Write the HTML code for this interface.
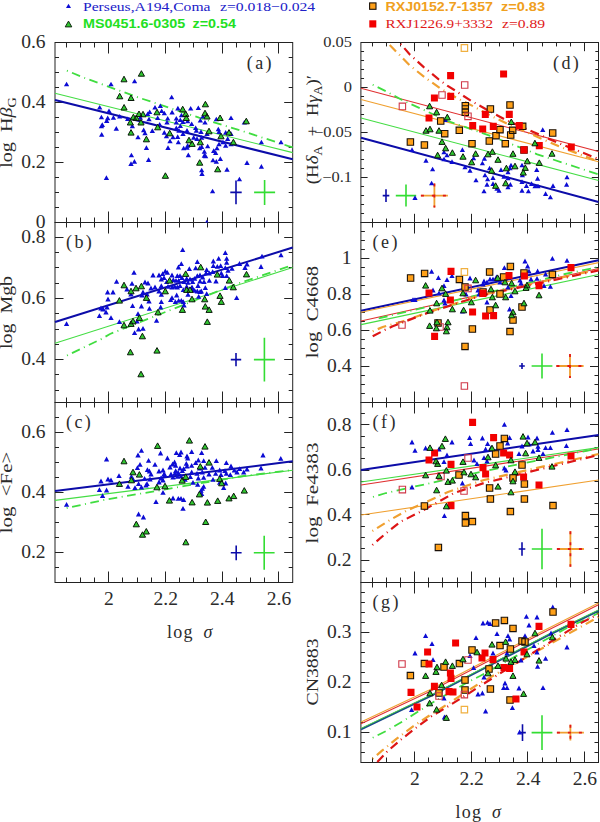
<!DOCTYPE html><html><head><meta charset="utf-8"><style>html,body{margin:0;padding:0;background:#fff;}svg{display:block;}</style></head><body>
<svg width="600" height="822" viewBox="0 0 600 822">
<rect width="600" height="822" fill="#fff"/>
<path d="M66.5 222.5v-5.0M66.5 42.5v5.0M80.5 222.5v-5.0M80.5 42.5v5.0M94.5 222.5v-5.0M94.5 42.5v5.0M108.5 222.5v-11.0M108.5 42.5v11.0M122.5 222.5v-5.0M122.5 42.5v5.0M137.5 222.5v-5.0M137.5 42.5v5.0M151.5 222.5v-5.0M151.5 42.5v5.0M165.5 222.5v-11.0M165.5 42.5v11.0M179.5 222.5v-5.0M179.5 42.5v5.0M193.5 222.5v-5.0M193.5 42.5v5.0M207.5 222.5v-5.0M207.5 42.5v5.0M222.5 222.5v-11.0M222.5 42.5v11.0M236.5 222.5v-5.0M236.5 42.5v5.0M250.5 222.5v-5.0M250.5 42.5v5.0M264.5 222.5v-5.0M264.5 42.5v5.0M278.5 222.5v-11.0M278.5 42.5v11.0M55.0 207.5h4.0M292.7 207.5h-4.0M55.0 192.5h4.0M292.7 192.5h-4.0M55.0 177.5h4.0M292.7 177.5h-4.0M55.0 162.5h8.5M292.7 162.5h-8.5M55.0 147.5h4.0M292.7 147.5h-4.0M55.0 132.5h4.0M292.7 132.5h-4.0M55.0 117.5h4.0M292.7 117.5h-4.0M55.0 102.5h8.5M292.7 102.5h-8.5M55.0 87.5h4.0M292.7 87.5h-4.0M55.0 72.5h4.0M292.7 72.5h-4.0M55.0 57.5h4.0M292.7 57.5h-4.0" stroke="#222" stroke-width="1" fill="none"/>
<rect x="55.0" y="42.5" width="237.7" height="180.0" stroke="#222" stroke-width="1" fill="none"/>
<text transform="translate(45.6,47.7) scale(1.03,1)" font-family='"Liberation Serif", serif' font-size="19" text-anchor="end" fill="#2b2b2b">0.6</text>
<text transform="translate(45.6,107.8) scale(1.03,1)" font-family='"Liberation Serif", serif' font-size="19" text-anchor="end" fill="#2b2b2b">0.4</text>
<text transform="translate(45.6,167.9) scale(1.03,1)" font-family='"Liberation Serif", serif' font-size="19" text-anchor="end" fill="#2b2b2b">0.2</text>
<text transform="translate(45.6,228.0) scale(1.03,1)" font-family='"Liberation Serif", serif' font-size="19" text-anchor="end" fill="#2b2b2b">0</text>
<path d="M66.5 402.5v-5.0M66.5 222.5v5.0M80.5 402.5v-5.0M80.5 222.5v5.0M94.5 402.5v-5.0M94.5 222.5v5.0M108.5 402.5v-11.0M108.5 222.5v11.0M122.5 402.5v-5.0M122.5 222.5v5.0M137.5 402.5v-5.0M137.5 222.5v5.0M151.5 402.5v-5.0M151.5 222.5v5.0M165.5 402.5v-11.0M165.5 222.5v11.0M179.5 402.5v-5.0M179.5 222.5v5.0M193.5 402.5v-5.0M193.5 222.5v5.0M207.5 402.5v-5.0M207.5 222.5v5.0M222.5 402.5v-11.0M222.5 222.5v11.0M236.5 402.5v-5.0M236.5 222.5v5.0M250.5 402.5v-5.0M250.5 222.5v5.0M264.5 402.5v-5.0M264.5 222.5v5.0M278.5 402.5v-11.0M278.5 222.5v11.0M55.0 390.5h4.0M292.7 390.5h-4.0M55.0 374.5h4.0M292.7 374.5h-4.0M55.0 359.5h8.5M292.7 359.5h-8.5M55.0 344.5h4.0M292.7 344.5h-4.0M55.0 329.5h4.0M292.7 329.5h-4.0M55.0 313.5h4.0M292.7 313.5h-4.0M55.0 298.5h8.5M292.7 298.5h-8.5M55.0 283.5h4.0M292.7 283.5h-4.0M55.0 267.5h4.0M292.7 267.5h-4.0M55.0 252.5h4.0M292.7 252.5h-4.0M55.0 237.5h8.5M292.7 237.5h-8.5" stroke="#222" stroke-width="1" fill="none"/>
<rect x="55.0" y="222.5" width="237.7" height="180.0" stroke="#222" stroke-width="1" fill="none"/>
<text transform="translate(45.6,243.0) scale(1.03,1)" font-family='"Liberation Serif", serif' font-size="19" text-anchor="end" fill="#2b2b2b">0.8</text>
<text transform="translate(45.6,304.1) scale(1.03,1)" font-family='"Liberation Serif", serif' font-size="19" text-anchor="end" fill="#2b2b2b">0.6</text>
<text transform="translate(45.6,365.2) scale(1.03,1)" font-family='"Liberation Serif", serif' font-size="19" text-anchor="end" fill="#2b2b2b">0.4</text>
<path d="M66.5 582.5v-5.0M66.5 402.5v5.0M80.5 582.5v-5.0M80.5 402.5v5.0M94.5 582.5v-5.0M94.5 402.5v5.0M108.5 582.5v-11.0M108.5 402.5v11.0M122.5 582.5v-5.0M122.5 402.5v5.0M137.5 582.5v-5.0M137.5 402.5v5.0M151.5 582.5v-5.0M151.5 402.5v5.0M165.5 582.5v-11.0M165.5 402.5v11.0M179.5 582.5v-5.0M179.5 402.5v5.0M193.5 582.5v-5.0M193.5 402.5v5.0M207.5 582.5v-5.0M207.5 402.5v5.0M222.5 582.5v-11.0M222.5 402.5v11.0M236.5 582.5v-5.0M236.5 402.5v5.0M250.5 582.5v-5.0M250.5 402.5v5.0M264.5 582.5v-5.0M264.5 402.5v5.0M278.5 582.5v-11.0M278.5 402.5v11.0M55.0 567.5h4.0M292.7 567.5h-4.0M55.0 552.5h8.5M292.7 552.5h-8.5M55.0 537.5h4.0M292.7 537.5h-4.0M55.0 522.5h4.0M292.7 522.5h-4.0M55.0 507.5h4.0M292.7 507.5h-4.0M55.0 492.5h8.5M292.7 492.5h-8.5M55.0 477.5h4.0M292.7 477.5h-4.0M55.0 462.5h4.0M292.7 462.5h-4.0M55.0 447.5h4.0M292.7 447.5h-4.0M55.0 432.5h8.5M292.7 432.5h-8.5M55.0 417.5h4.0M292.7 417.5h-4.0" stroke="#222" stroke-width="1" fill="none"/>
<rect x="55.0" y="402.5" width="237.7" height="180.0" stroke="#222" stroke-width="1" fill="none"/>
<text transform="translate(45.6,438.1) scale(1.03,1)" font-family='"Liberation Serif", serif' font-size="19" text-anchor="end" fill="#2b2b2b">0.6</text>
<text transform="translate(45.6,498.1) scale(1.03,1)" font-family='"Liberation Serif", serif' font-size="19" text-anchor="end" fill="#2b2b2b">0.4</text>
<text transform="translate(45.6,558.1) scale(1.03,1)" font-family='"Liberation Serif", serif' font-size="19" text-anchor="end" fill="#2b2b2b">0.2</text>
<path d="M372.5 222.5v-3.95M372.5 42.5v3.95M386.5 222.5v-3.95M386.5 42.5v3.95M400.5 222.5v-3.95M400.5 42.5v3.95M414.5 222.5v-8.690000000000001M414.5 42.5v8.690000000000001M428.5 222.5v-3.95M428.5 42.5v3.95M442.5 222.5v-3.95M442.5 42.5v3.95M457.5 222.5v-3.95M457.5 42.5v3.95M471.5 222.5v-8.690000000000001M471.5 42.5v8.690000000000001M485.5 222.5v-3.95M485.5 42.5v3.95M499.5 222.5v-3.95M499.5 42.5v3.95M513.5 222.5v-3.95M513.5 42.5v3.95M527.5 222.5v-8.690000000000001M527.5 42.5v8.690000000000001M542.5 222.5v-3.95M542.5 42.5v3.95M556.5 222.5v-3.95M556.5 42.5v3.95M570.5 222.5v-3.95M570.5 42.5v3.95M584.5 222.5v-8.690000000000001M584.5 42.5v8.690000000000001M360.9 213.5h3.16M598.5 213.5h-3.16M360.9 204.5h3.16M598.5 204.5h-3.16M360.9 195.5h3.16M598.5 195.5h-3.16M360.9 186.5h3.16M598.5 186.5h-3.16M360.9 177.5h6.715M598.5 177.5h-6.715M360.9 168.5h3.16M598.5 168.5h-3.16M360.9 159.5h3.16M598.5 159.5h-3.16M360.9 150.5h3.16M598.5 150.5h-3.16M360.9 141.5h3.16M598.5 141.5h-3.16M360.9 132.5h6.715M598.5 132.5h-6.715M360.9 123.5h3.16M598.5 123.5h-3.16M360.9 114.5h3.16M598.5 114.5h-3.16M360.9 105.5h3.16M598.5 105.5h-3.16M360.9 96.5h3.16M598.5 96.5h-3.16M360.9 87.5h6.715M598.5 87.5h-6.715M360.9 78.5h3.16M598.5 78.5h-3.16M360.9 69.5h3.16M598.5 69.5h-3.16M360.9 60.5h3.16M598.5 60.5h-3.16M360.9 51.5h3.16M598.5 51.5h-3.16" stroke="#222" stroke-width="1" fill="none"/>
<rect x="360.9" y="42.5" width="237.6" height="180.0" stroke="#222" stroke-width="1" fill="none"/>
<text transform="translate(352.0,47.1) scale(1.15,1)" font-family='"Liberation Serif", serif' font-size="14.3" text-anchor="end" fill="#2b2b2b">0.05</text>
<text transform="translate(352.0,92.1) scale(1.15,1)" font-family='"Liberation Serif", serif' font-size="14.3" text-anchor="end" fill="#2b2b2b">0</text>
<text transform="translate(352.0,137.1) scale(1.15,1)" font-family='"Liberation Serif", serif' font-size="14.3" text-anchor="end" fill="#2b2b2b">−0.05</text>
<text transform="translate(352.0,182.1) scale(1.15,1)" font-family='"Liberation Serif", serif' font-size="14.3" text-anchor="end" fill="#2b2b2b">−0.1</text>
<path d="M372.5 402.5v-5.0M372.5 222.5v5.0M386.5 402.5v-5.0M386.5 222.5v5.0M400.5 402.5v-5.0M400.5 222.5v5.0M414.5 402.5v-11.0M414.5 222.5v11.0M428.5 402.5v-5.0M428.5 222.5v5.0M442.5 402.5v-5.0M442.5 222.5v5.0M457.5 402.5v-5.0M457.5 222.5v5.0M471.5 402.5v-11.0M471.5 222.5v11.0M485.5 402.5v-5.0M485.5 222.5v5.0M499.5 402.5v-5.0M499.5 222.5v5.0M513.5 402.5v-5.0M513.5 222.5v5.0M527.5 402.5v-11.0M527.5 222.5v11.0M542.5 402.5v-5.0M542.5 222.5v5.0M556.5 402.5v-5.0M556.5 222.5v5.0M570.5 402.5v-5.0M570.5 222.5v5.0M584.5 402.5v-11.0M584.5 222.5v11.0M360.9 393.5h4.0M598.5 393.5h-4.0M360.9 384.5h4.0M598.5 384.5h-4.0M360.9 375.5h4.0M598.5 375.5h-4.0M360.9 366.5h8.5M598.5 366.5h-8.5M360.9 357.5h4.0M598.5 357.5h-4.0M360.9 348.5h4.0M598.5 348.5h-4.0M360.9 339.5h4.0M598.5 339.5h-4.0M360.9 330.5h8.5M598.5 330.5h-8.5M360.9 321.5h4.0M598.5 321.5h-4.0M360.9 312.5h4.0M598.5 312.5h-4.0M360.9 303.5h4.0M598.5 303.5h-4.0M360.9 294.5h8.5M598.5 294.5h-8.5M360.9 285.5h4.0M598.5 285.5h-4.0M360.9 276.5h4.0M598.5 276.5h-4.0M360.9 267.5h4.0M598.5 267.5h-4.0M360.9 258.5h8.5M598.5 258.5h-8.5M360.9 249.5h4.0M598.5 249.5h-4.0M360.9 240.5h4.0M598.5 240.5h-4.0M360.9 231.5h4.0M598.5 231.5h-4.0" stroke="#222" stroke-width="1" fill="none"/>
<rect x="360.9" y="222.5" width="237.6" height="180.0" stroke="#222" stroke-width="1" fill="none"/>
<text transform="translate(351.5,264.1) scale(1.03,1)" font-family='"Liberation Serif", serif' font-size="19" text-anchor="end" fill="#2b2b2b">1</text>
<text transform="translate(351.5,300.1) scale(1.03,1)" font-family='"Liberation Serif", serif' font-size="19" text-anchor="end" fill="#2b2b2b">0.8</text>
<text transform="translate(351.5,336.1) scale(1.03,1)" font-family='"Liberation Serif", serif' font-size="19" text-anchor="end" fill="#2b2b2b">0.6</text>
<text transform="translate(351.5,372.1) scale(1.03,1)" font-family='"Liberation Serif", serif' font-size="19" text-anchor="end" fill="#2b2b2b">0.4</text>
<path d="M372.5 582.5v-5.0M372.5 402.5v5.0M386.5 582.5v-5.0M386.5 402.5v5.0M400.5 582.5v-5.0M400.5 402.5v5.0M414.5 582.5v-11.0M414.5 402.5v11.0M428.5 582.5v-5.0M428.5 402.5v5.0M442.5 582.5v-5.0M442.5 402.5v5.0M457.5 582.5v-5.0M457.5 402.5v5.0M471.5 582.5v-11.0M471.5 402.5v11.0M485.5 582.5v-5.0M485.5 402.5v5.0M499.5 582.5v-5.0M499.5 402.5v5.0M513.5 582.5v-5.0M513.5 402.5v5.0M527.5 582.5v-11.0M527.5 402.5v11.0M542.5 582.5v-5.0M542.5 402.5v5.0M556.5 582.5v-5.0M556.5 402.5v5.0M570.5 582.5v-5.0M570.5 402.5v5.0M584.5 582.5v-11.0M584.5 402.5v11.0M360.9 571.5h4.0M598.5 571.5h-4.0M360.9 560.5h8.5M598.5 560.5h-8.5M360.9 548.5h4.0M598.5 548.5h-4.0M360.9 537.5h4.0M598.5 537.5h-4.0M360.9 526.5h4.0M598.5 526.5h-4.0M360.9 514.5h8.5M598.5 514.5h-8.5M360.9 503.5h4.0M598.5 503.5h-4.0M360.9 492.5h4.0M598.5 492.5h-4.0M360.9 481.5h4.0M598.5 481.5h-4.0M360.9 470.5h8.5M598.5 470.5h-8.5M360.9 458.5h4.0M598.5 458.5h-4.0M360.9 447.5h4.0M598.5 447.5h-4.0M360.9 436.5h4.0M598.5 436.5h-4.0M360.9 424.5h8.5M598.5 424.5h-8.5M360.9 413.5h4.0M598.5 413.5h-4.0" stroke="#222" stroke-width="1" fill="none"/>
<rect x="360.9" y="402.5" width="237.6" height="180.0" stroke="#222" stroke-width="1" fill="none"/>
<text transform="translate(351.5,430.6) scale(1.03,1)" font-family='"Liberation Serif", serif' font-size="19" text-anchor="end" fill="#2b2b2b">0.8</text>
<text transform="translate(351.5,475.6) scale(1.03,1)" font-family='"Liberation Serif", serif' font-size="19" text-anchor="end" fill="#2b2b2b">0.6</text>
<text transform="translate(351.5,520.6) scale(1.03,1)" font-family='"Liberation Serif", serif' font-size="19" text-anchor="end" fill="#2b2b2b">0.4</text>
<text transform="translate(351.5,565.6) scale(1.03,1)" font-family='"Liberation Serif", serif' font-size="19" text-anchor="end" fill="#2b2b2b">0.2</text>
<path d="M372.5 762.5v-5.0M372.5 582.5v5.0M386.5 762.5v-5.0M386.5 582.5v5.0M400.5 762.5v-5.0M400.5 582.5v5.0M414.5 762.5v-11.0M414.5 582.5v11.0M428.5 762.5v-5.0M428.5 582.5v5.0M442.5 762.5v-5.0M442.5 582.5v5.0M457.5 762.5v-5.0M457.5 582.5v5.0M471.5 762.5v-11.0M471.5 582.5v11.0M485.5 762.5v-5.0M485.5 582.5v5.0M499.5 762.5v-5.0M499.5 582.5v5.0M513.5 762.5v-5.0M513.5 582.5v5.0M527.5 762.5v-11.0M527.5 582.5v11.0M542.5 762.5v-5.0M542.5 582.5v5.0M556.5 762.5v-5.0M556.5 582.5v5.0M570.5 762.5v-5.0M570.5 582.5v5.0M584.5 762.5v-11.0M584.5 582.5v11.0M360.9 752.5h4.0M598.5 752.5h-4.0M360.9 742.5h4.0M598.5 742.5h-4.0M360.9 732.5h8.5M598.5 732.5h-8.5M360.9 722.5h4.0M598.5 722.5h-4.0M360.9 712.5h4.0M598.5 712.5h-4.0M360.9 702.5h4.0M598.5 702.5h-4.0M360.9 692.5h4.0M598.5 692.5h-4.0M360.9 682.5h8.5M598.5 682.5h-8.5M360.9 672.5h4.0M598.5 672.5h-4.0M360.9 662.5h4.0M598.5 662.5h-4.0M360.9 652.5h4.0M598.5 652.5h-4.0M360.9 642.5h4.0M598.5 642.5h-4.0M360.9 632.5h8.5M598.5 632.5h-8.5M360.9 622.5h4.0M598.5 622.5h-4.0M360.9 612.5h4.0M598.5 612.5h-4.0M360.9 602.5h4.0M598.5 602.5h-4.0M360.9 592.5h4.0M598.5 592.5h-4.0" stroke="#222" stroke-width="1" fill="none"/>
<rect x="360.9" y="582.5" width="237.6" height="180.0" stroke="#222" stroke-width="1" fill="none"/>
<text transform="translate(351.5,638.1) scale(1.03,1)" font-family='"Liberation Serif", serif' font-size="19" text-anchor="end" fill="#2b2b2b">0.3</text>
<text transform="translate(351.5,688.1) scale(1.03,1)" font-family='"Liberation Serif", serif' font-size="19" text-anchor="end" fill="#2b2b2b">0.2</text>
<text transform="translate(351.5,738.1) scale(1.03,1)" font-family='"Liberation Serif", serif' font-size="19" text-anchor="end" fill="#2b2b2b">0.1</text>
<polyline points="55,100 292.7,159.3" fill="none" stroke="#0c0ca8" stroke-width="2.0"/>
<polyline points="55,93.3 292.7,152.6" fill="none" stroke="#44dd44" stroke-width="1.1"/>
<polyline points="66.9,70.7 84.7,78 139,97.7 171,108.3 199,117.7 244.3,131.7 287.7,145.8 292.7,147.3" fill="none" stroke="#40dd40" stroke-width="1.8" stroke-dasharray="1 4.5 8.7 4.5"/>
<polyline points="55,322 292.7,247.5" fill="none" stroke="#0c0ca8" stroke-width="2.0"/>
<polyline points="55,343.3 292.7,267.6" fill="none" stroke="#44dd44" stroke-width="1.1"/>
<polyline points="67,355.5 101.8,338.8 110,334 168,311 235,284.5 292.7,265" fill="none" stroke="#40dd40" stroke-width="1.8" stroke-dasharray="1 4.5 8.7 4.5"/>
<polyline points="55,491.1 292.7,461.3" fill="none" stroke="#0c0ca8" stroke-width="2.0"/>
<polyline points="55,500.4 292.7,470.2" fill="none" stroke="#44dd44" stroke-width="1.1"/>
<polyline points="66.7,508 105,499.8 186.3,485.7 240,476.5 292.7,470" fill="none" stroke="#40dd40" stroke-width="1.8" stroke-dasharray="1 4.5 8.7 4.5"/>
<polyline points="361,137.8 598.5,202" fill="none" stroke="#0c0ca8" stroke-width="2.0"/>
<polyline points="361,118 598.5,180.5" fill="none" stroke="#44dd44" stroke-width="1.1"/>
<polyline points="361,99.5 598.5,161.8" fill="none" stroke="#f0a030" stroke-width="1.1"/>
<polyline points="361,88.3 598.5,151.5" fill="none" stroke="#e03030" stroke-width="1.1"/>
<polyline points="372.7,84.7 386,91.3 402,100 448,121 493.3,137 537.3,154.3 598.5,174.5" fill="none" stroke="#40dd40" stroke-width="1.8" stroke-dasharray="1 4.5 9 4.5"/>
<polyline points="389.7,45 409.7,65.3 424.7,77.3 440.7,88.7 457.3,98.3 473.3,106.3 490.7,115.7 507.3,123.7 536,136.3 560.7,147 598.5,161.5" fill="none" stroke="#f0a030" stroke-width="2.2" stroke-dasharray="9 4.5 1 4.5"/>
<polyline points="400.7,44 410,54.7 424,67.3 438.7,79.3 447.3,85.7 454.7,90.3 471.3,101 488,110.3 505.3,119.7 532.7,131.7 556.7,142.3 598.5,159" fill="none" stroke="#dd1515" stroke-width="2.2" stroke-dasharray="1 4.5 9 4.5"/>
<polyline points="361,310.7 598.5,260.3" fill="none" stroke="#0c0ca8" stroke-width="2.0"/>
<polyline points="361,312.3 598.5,262.6" fill="none" stroke="#f0a030" stroke-width="1.1"/>
<polyline points="361,321 598.5,268.5" fill="none" stroke="#e03030" stroke-width="1.1"/>
<polyline points="361,324.6 598.5,274.5" fill="none" stroke="#44dd44" stroke-width="1.1"/>
<polyline points="378.7,318.3 424,307.7 480,294.5 565,274 598.5,267" fill="none" stroke="#40dd40" stroke-width="1.8" stroke-dasharray="9 4.5 1 4.5"/>
<polyline points="372.7,331.3 382.7,327 400,322.3 410,319 428,312.3 480,295.5 547.5,280.5 598.5,269.5" fill="none" stroke="#f0a030" stroke-width="2.2" stroke-dasharray="1 4.5 9 4.5"/>
<polyline points="372.7,336.3 384.7,330 392.7,326.3 420,315.7 429.3,312.3 480,296 547.5,281.5 598.5,270.4" fill="none" stroke="#dd1515" stroke-width="2.2" stroke-dasharray="9 4.5 1 4.5"/>
<polyline points="361,470 598.5,435" fill="none" stroke="#0c0ca8" stroke-width="2.0"/>
<polyline points="361,482 598.5,447.6" fill="none" stroke="#44dd44" stroke-width="1.1"/>
<polyline points="361,485 598.5,449" fill="none" stroke="#e03030" stroke-width="1.1"/>
<polyline points="361,515 598.5,480" fill="none" stroke="#f0a030" stroke-width="1.1"/>
<polyline points="373,497 386,493 480,472 598.5,448.4" fill="none" stroke="#40dd40" stroke-width="1.8" stroke-dasharray="1 4.5 9 4.5"/>
<polyline points="372.4,531 390,520 406,511 426,502 448,492 484,480 598.5,454" fill="none" stroke="#f0a030" stroke-width="2.2" stroke-dasharray="1 4.5 9 4.5"/>
<polyline points="372.4,545 384,535 400,522 420,512 440,501 454,493 484,483 598.5,455" fill="none" stroke="#dd1515" stroke-width="2.2" stroke-dasharray="1 4.5 9 4.5"/>
<polyline points="361,722 429.3,690 537,634 598.5,603" fill="none" stroke="#f0a030" stroke-width="1.1"/>
<polyline points="361,723.8 429.3,691.8 537,635.8 598.5,604.8" fill="none" stroke="#e03030" stroke-width="1.1"/>
<polyline points="361,729.3 432,695.3 548.7,635 598.5,610.8" fill="none" stroke="#1a4a8a" stroke-width="2.0"/>
<polyline points="361,728.4 432,694.4 548.7,634.1 598.5,609.9" fill="none" stroke="#44cc44" stroke-width="1.0"/>
<polyline points="372.7,737.7 386.7,730.7 402.7,721.3 418.7,711.3 434.7,701.3 468,682 480,676 568.5,627 587.2,618.8 598.5,613" fill="none" stroke="#40dd40" stroke-width="1.8" stroke-dasharray="1 4.5 9 4.5"/>
<polyline points="372.7,758.7 382,750.7 396.7,738.7 412.7,726.7 428.7,716 435.3,712 480,683 598.5,617" fill="none" stroke="#f0a030" stroke-width="2.2" stroke-dasharray="1 4.5 9 4.5"/>
<polyline points="377.3,762 386.7,752 401.3,739.3 416.7,727.3 432.7,715.3 440,711.3 468,694 480,686 580,623.5 598.5,614" fill="none" stroke="#dd1515" stroke-width="2.2" stroke-dasharray="9 4.5 1 4.5"/>
<path d="M230.3 192.4h11.4M236 180.6v23.6" stroke="#0c0ca8" stroke-width="1.6" fill="none"/>
<path d="M254.10000000000002 192.4h21.0M264.6 179.9v25.0" stroke="#33dd33" stroke-width="1.6" fill="none"/>
<path d="M230.8 359.6h10.4M236 352.90000000000003v13.4" stroke="#0c0ca8" stroke-width="1.6" fill="none"/>
<path d="M253.89999999999998 359.6h21.0M264.4 337.8v43.6" stroke="#33dd33" stroke-width="1.6" fill="none"/>
<path d="M230.79999999999998 552.8h10.8M236.2 545.4v14.8" stroke="#0c0ca8" stroke-width="1.6" fill="none"/>
<path d="M253.79999999999998 552.8h20.8M264.2 535.8v34" stroke="#33dd33" stroke-width="1.6" fill="none"/>
<path d="M382.7 195.6h6.6M386 189.29999999999998v12.6" stroke="#0c0ca8" stroke-width="1.6" fill="none"/>
<path d="M395.8 195.6h20.4M406 184.6v22" stroke="#33dd33" stroke-width="1.6" fill="none"/>
<path d="M420.9 195.6h27.0M434.4 183.6v24" stroke="#f0a030" stroke-width="1.8" fill="none"/>
<path d="M519.2 366h5.6M522 363v6" stroke="#0c0ca8" stroke-width="1.6" fill="none"/>
<path d="M531.6 366h20.8M542 353.6v24.8" stroke="#33dd33" stroke-width="1.6" fill="none"/>
<path d="M556.4 366h27.2M570 354v24" stroke="#f0a030" stroke-width="1.8" fill="none"/>
<path d="M518.7 549h6.6M522 542.2v13.6" stroke="#0c0ca8" stroke-width="1.6" fill="none"/>
<path d="M531.8 549h20.4M542 528.7v40.6" stroke="#33dd33" stroke-width="1.6" fill="none"/>
<path d="M556.9 549h27.0M570.4 531.3v35.4" stroke="#f0a030" stroke-width="1.8" fill="none"/>
<path d="M519.2 732.6h6.6M522.5 724.3000000000001v16.6" stroke="#0c0ca8" stroke-width="1.6" fill="none"/>
<path d="M531.6 732.6h20.8M542 715.3000000000001v34.6" stroke="#33dd33" stroke-width="1.6" fill="none"/>
<path d="M556.9 732.6h27.0M570.4 724.8000000000001v15.6" stroke="#f0a030" stroke-width="1.8" fill="none"/>
<path d="M420.9 195.6h27.0M434.4 183.6v24" stroke="#e01818" stroke-width="1.8" fill="none" stroke-dasharray="3 8" stroke-dashoffset="0"/>
<path d="M556.4 366h27.2M570 354v24" stroke="#e01818" stroke-width="1.8" fill="none" stroke-dasharray="3 8" stroke-dashoffset="0"/>
<path d="M556.9 549h27.0M570.4 531.3v35.4" stroke="#e01818" stroke-width="1.8" fill="none" stroke-dasharray="3 8" stroke-dashoffset="0"/>
<path d="M556.9 732.6h27.0M570.4 724.8000000000001v15.6" stroke="#e01818" stroke-width="1.8" fill="none" stroke-dasharray="3 8" stroke-dashoffset="0"/>
<defs><clipPath id="cpa"><rect x="55.0" y="42.5" width="237.7" height="180.0"/></clipPath><clipPath id="cpb"><rect x="55.0" y="222.5" width="237.7" height="180.0"/></clipPath><clipPath id="cpc"><rect x="55.0" y="402.5" width="237.7" height="180.0"/></clipPath><clipPath id="cpd"><rect x="360.9" y="42.5" width="237.6" height="180.0"/></clipPath><clipPath id="cpe"><rect x="360.9" y="222.5" width="237.6" height="180.0"/></clipPath><clipPath id="cpf"><rect x="360.9" y="402.5" width="237.6" height="180.0"/></clipPath><clipPath id="cpg"><rect x="360.9" y="582.5" width="237.6" height="180.0"/></clipPath></defs>
<g clip-path="url(#cpa)">
<path d="M63.9 86.3L69.2 86.3L66.6 81.7ZM108.3 86.3L113.7 86.3L111.0 81.7ZM131.9 83.3L137.2 83.3L134.6 78.7ZM97.0 109.6L102.4 109.6L99.7 105.0ZM106.3 113.0L111.7 113.0L109.0 108.4ZM98.8 119.3L104.1 119.3L101.4 114.7ZM105.0 120.2L110.4 120.2L107.7 115.6ZM110.8 119.8L116.1 119.8L113.4 115.1ZM117.0 118.6L122.4 118.6L119.7 114.0ZM104.0 122.9L109.4 122.9L106.7 118.2ZM99.6 126.9L105.0 126.9L102.3 122.2ZM98.8 128.2L104.1 128.2L101.4 123.6ZM113.6 130.7L119.0 130.7L116.3 126.0ZM125.0 121.0L130.3 121.0L127.7 116.4ZM129.7 128.2L135.0 128.2L132.3 123.6ZM137.7 119.8L143.0 119.8L140.3 115.1ZM145.0 116.0L150.3 116.0L147.7 111.4ZM147.0 114.0L152.3 114.0L149.7 109.4ZM152.3 109.6L157.7 109.6L155.0 105.0ZM157.7 108.0L163.0 108.0L160.3 103.4ZM159.0 113.0L164.3 113.0L161.7 108.4ZM161.7 115.3L167.0 115.3L164.3 110.7ZM169.4 114.4L174.8 114.4L172.1 109.8ZM146.3 121.3L151.7 121.3L149.0 116.7ZM155.0 120.0L160.3 120.0L157.7 115.4ZM165.0 120.6L170.3 120.6L167.7 116.0ZM164.3 124.6L169.7 124.6L167.0 120.0ZM157.0 126.6L162.3 126.6L159.7 122.0ZM149.7 133.0L155.0 133.0L152.3 128.3ZM141.0 132.2L146.3 132.2L143.7 127.6ZM142.3 135.3L147.7 135.3L145.0 130.7ZM161.7 134.7L167.0 134.7L164.3 130.0ZM169.0 99.3L174.3 99.3L171.7 94.7ZM99.0 136.7L104.4 136.7L101.7 132.0ZM175.2 110.4L180.6 110.4L177.9 105.8ZM188.0 110.6L193.3 110.6L190.7 106.0ZM195.7 110.0L201.0 110.0L198.3 105.4ZM178.8 117.3L184.1 117.3L181.4 112.7ZM173.7 120.6L179.0 120.6L176.3 116.0ZM177.7 122.0L183.0 122.0L180.3 117.4ZM180.3 124.0L185.7 124.0L183.0 119.4ZM185.0 123.3L190.3 123.3L187.7 118.7ZM173.7 124.6L179.0 124.6L176.3 120.0ZM189.0 126.0L194.3 126.0L191.7 121.4ZM197.7 122.6L203.0 122.6L200.3 118.0ZM202.3 124.6L207.7 124.6L205.0 120.0ZM200.3 118.6L205.7 118.6L203.0 114.0ZM213.7 121.3L219.0 121.3L216.3 116.7ZM228.3 120.0L233.7 120.0L231.0 115.4ZM241.7 124.6L247.0 124.6L244.3 120.0ZM177.7 128.1L183.0 128.1L180.3 123.4ZM173.7 130.1L179.0 130.1L176.3 125.4ZM176.3 132.7L181.7 132.7L179.0 128.0ZM184.3 132.7L189.7 132.7L187.0 128.0ZM193.0 130.1L198.3 130.1L195.7 125.4ZM193.7 132.7L199.0 132.7L196.3 128.0ZM198.3 134.0L203.7 134.0L201.0 129.3ZM215.7 131.3L221.0 131.3L218.3 126.7ZM216.3 134.0L221.7 134.0L219.0 129.3ZM223.0 134.7L228.3 134.7L225.7 130.0ZM228.3 136.0L233.7 136.0L231.0 131.3ZM204.3 136.0L209.7 136.0L207.0 131.3ZM180.3 136.0L185.7 136.0L183.0 131.3ZM175.0 139.0L180.3 139.0L177.7 134.3ZM175.7 144.3L181.0 144.3L178.3 139.7ZM181.0 150.3L186.3 150.3L183.7 145.7ZM184.3 149.7L189.7 149.7L187.0 145.0ZM185.0 147.7L190.3 147.7L187.7 143.0ZM185.7 157.2L191.0 157.2L188.3 152.6ZM191.0 139.7L196.3 139.7L193.7 135.0ZM194.3 141.0L199.7 141.0L197.0 136.3ZM197.0 150.3L202.3 150.3L199.7 145.7ZM199.0 149.0L204.3 149.0L201.7 144.3ZM199.0 139.7L204.3 139.7L201.7 135.0ZM201.7 153.7L207.0 153.7L204.3 149.0ZM201.7 157.7L207.0 157.7L204.3 153.0ZM203.0 158.3L208.3 158.3L205.7 153.7ZM205.0 148.3L210.3 148.3L207.7 143.7ZM211.0 153.0L216.3 153.0L213.7 148.3ZM213.0 155.0L218.3 155.0L215.7 150.3ZM214.3 150.3L219.7 150.3L217.0 145.7ZM216.3 146.3L221.7 146.3L219.0 141.7ZM220.3 144.3L225.7 144.3L223.0 139.7ZM223.0 147.7L228.3 147.7L225.7 143.0ZM225.0 141.0L230.3 141.0L227.7 136.3ZM228.3 146.3L233.7 146.3L231.0 141.7ZM210.3 162.3L215.7 162.3L213.0 157.7ZM213.7 163.7L219.0 163.7L216.3 159.0ZM217.7 161.0L223.0 161.0L220.3 156.3ZM244.3 165.0L249.7 165.0L247.0 160.3ZM199.0 172.3L204.3 172.3L201.7 167.7ZM224.3 171.7L229.7 171.7L227.0 167.0ZM199.3 175.9L204.7 175.9L202.0 171.2ZM236.8 181.3L242.1 181.3L239.4 176.7ZM209.9 193.3L215.2 193.3L212.6 188.7ZM204.2 224.3L209.5 224.3L206.8 219.7ZM258.8 168.8L264.0 168.8L261.4 164.1ZM258.8 144.3L264.0 144.3L261.4 139.7ZM278.4 144.3L283.6 144.3L281.0 139.7ZM135.3 139.3L140.7 139.3L138.0 134.7ZM163.8 138.3L169.1 138.3L166.4 133.7ZM167.3 143.3L172.7 143.3L170.0 138.7ZM170.3 139.3L175.7 139.3L173.0 134.7ZM143.8 149.9L149.1 149.9L146.4 145.2ZM165.3 149.9L170.7 149.9L168.0 145.2ZM128.8 157.3L134.1 157.3L131.4 152.7ZM131.8 163.8L137.1 163.8L134.4 159.1ZM128.3 165.9L133.7 165.9L131.0 161.2ZM145.9 161.9L151.2 161.9L148.6 157.2ZM103.8 179.9L109.1 179.9L106.4 175.2Z" fill="#0c0cd4"/>
<path d="M138.3 76.2L144.5 76.2L141.4 70.7ZM121.0 81.8L127.0 81.8L124.0 76.2ZM116.7 98.8L122.8 98.8L119.7 93.3ZM128.0 100.5L134.1 100.5L131.0 95.0ZM121.0 110.0L127.1 110.0L124.1 104.5ZM135.9 116.5L142.1 116.5L139.0 111.0ZM139.9 116.8L146.1 116.8L143.0 111.3ZM130.3 119.8L136.5 119.8L133.4 114.2ZM133.2 120.5L139.4 120.5L136.3 115.0ZM153.9 114.8L160.1 114.8L157.0 109.3ZM127.3 125.0L133.4 125.0L130.3 119.5ZM137.9 125.0L144.1 125.0L141.0 119.5ZM154.6 129.8L160.8 129.8L157.7 124.2ZM128.0 135.1L134.1 135.1L131.0 129.6ZM166.6 135.8L172.8 135.8L169.7 130.2ZM202.3 106.8L208.5 106.8L205.4 101.3ZM179.6 111.8L185.8 111.8L182.7 106.2ZM201.9 115.8L208.1 115.8L205.0 110.2ZM203.9 119.0L210.1 119.0L207.0 113.5ZM183.2 120.5L189.4 120.5L186.3 115.0ZM182.6 116.5L188.8 116.5L185.7 111.0ZM217.0 120.5L223.2 120.5L220.1 115.0ZM243.2 123.8L249.4 123.8L246.3 118.2ZM205.9 133.8L212.1 133.8L209.0 128.2ZM225.9 135.1L232.1 135.1L229.0 129.6ZM185.9 142.8L192.1 142.8L189.0 137.2ZM189.0 146.4L195.2 146.4L192.1 140.9ZM197.2 144.8L203.4 144.8L200.3 139.2ZM217.9 138.8L224.1 138.8L221.0 133.2ZM230.3 144.8L236.5 144.8L233.4 139.2ZM196.6 165.2L202.8 165.2L199.7 159.7ZM214.6 171.8L220.8 171.8L217.7 166.3ZM143.3 141.8L149.5 141.8L146.4 136.2ZM162.3 178.3L168.5 178.3L165.4 172.8Z" fill="#30c830" stroke="#0a180a" stroke-width="1.0" stroke-linejoin="round"/>
</g>
<g clip-path="url(#cpb)">
<path d="M131.3 274.8L136.7 274.8L134.0 270.0ZM113.9 283.8L119.2 283.8L116.6 279.0ZM129.3 285.8L134.7 285.8L132.0 281.0ZM104.9 294.4L110.2 294.4L107.6 289.6ZM110.3 294.4L115.7 294.4L113.0 289.6ZM105.3 301.4L110.7 301.4L108.0 296.6ZM124.3 291.4L129.7 291.4L127.0 286.6ZM128.3 296.4L133.7 296.4L131.0 291.6ZM142.3 284.4L147.7 284.4L145.0 279.6ZM145.3 285.4L150.7 285.4L148.0 280.6ZM150.3 277.4L155.7 277.4L153.0 272.6ZM156.3 277.4L161.7 277.4L159.0 272.6ZM148.3 290.4L153.7 290.4L151.0 285.6ZM152.3 289.4L157.7 289.4L155.0 284.6ZM156.3 293.4L161.7 293.4L159.0 288.6ZM140.3 294.4L145.7 294.4L143.0 289.6ZM139.3 297.4L144.7 297.4L142.0 292.6ZM144.3 296.4L149.7 296.4L147.0 291.6ZM146.3 303.4L151.7 303.4L149.0 298.6ZM138.8 308.4L144.1 308.4L141.4 303.6ZM129.9 308.0L135.2 308.0L132.6 303.2ZM98.3 310.4L103.7 310.4L101.0 305.6ZM100.3 311.4L105.7 311.4L103.0 306.6ZM103.3 314.4L108.7 314.4L106.0 309.6ZM96.8 318.0L102.1 318.0L99.4 313.2ZM108.3 320.0L113.7 320.0L111.0 315.2ZM104.3 309.4L109.7 309.4L107.0 304.6ZM146.8 310.8L152.1 310.8L149.4 306.0ZM153.9 322.8L159.2 322.8L156.6 318.0ZM135.3 316.0L140.7 316.0L138.0 311.2ZM116.8 324.0L122.1 324.0L119.4 319.2ZM134.3 323.4L139.7 323.4L137.0 318.6ZM135.9 331.4L141.2 331.4L138.6 326.6ZM140.3 330.8L145.7 330.8L143.0 326.0ZM131.9 335.0L137.2 335.0L134.6 330.2ZM63.9 326.0L69.2 326.0L66.6 321.2ZM180.0 252.0L185.3 252.0L182.7 247.3ZM222.7 255.0L228.0 255.0L225.3 250.3ZM216.0 260.7L221.3 260.7L218.7 256.0ZM224.0 260.7L229.3 260.7L226.7 256.0ZM210.7 263.4L216.0 263.4L213.3 258.6ZM224.0 264.7L229.3 264.7L226.7 259.9ZM178.7 266.1L184.0 266.1L181.3 261.3ZM194.7 264.1L200.0 264.1L197.3 259.3ZM175.8 269.4L181.1 269.4L178.4 264.6ZM186.7 271.1L192.0 271.1L189.3 266.3ZM193.0 270.2L198.3 270.2L195.7 265.5ZM204.0 272.1L209.3 272.1L206.7 267.3ZM210.7 268.1L216.0 268.1L213.3 263.3ZM214.7 268.7L220.0 268.7L217.3 263.9ZM218.0 268.1L223.3 268.1L220.7 263.3ZM222.7 270.1L228.0 270.1L225.3 265.3ZM229.3 270.7L234.7 270.7L232.0 265.9ZM225.3 272.7L230.7 272.7L228.0 267.9ZM162.7 273.4L168.0 273.4L165.3 268.6ZM160.0 276.1L165.3 276.1L162.7 271.3ZM164.7 274.7L170.0 274.7L167.3 269.9ZM169.3 277.4L174.7 277.4L172.0 272.6ZM174.7 278.1L180.0 278.1L177.3 273.3ZM177.3 278.1L182.7 278.1L180.0 273.3ZM179.3 280.1L184.7 280.1L182.0 275.3ZM184.0 280.7L189.3 280.7L186.7 275.9ZM187.3 281.4L192.7 281.4L190.0 276.6ZM192.0 280.7L197.3 280.7L194.7 275.9ZM194.7 278.1L200.0 278.1L197.3 273.3ZM197.3 277.4L202.7 277.4L200.0 272.6ZM200.0 279.4L205.3 279.4L202.7 274.6ZM203.3 275.4L208.7 275.4L206.0 270.6ZM206.7 275.4L212.0 275.4L209.3 270.6ZM210.0 274.1L215.3 274.1L212.7 269.3ZM218.7 275.4L224.0 275.4L221.3 270.6ZM220.0 278.1L225.3 278.1L222.7 273.3ZM224.0 278.1L229.3 278.1L226.7 273.3ZM213.3 283.4L218.7 283.4L216.0 278.6ZM158.7 281.4L164.0 281.4L161.3 276.6ZM161.3 280.1L166.7 280.1L164.0 275.3ZM164.0 284.1L169.3 284.1L166.7 279.3ZM170.7 282.1L176.0 282.1L173.3 277.3ZM173.3 282.7L178.7 282.7L176.0 277.9ZM176.0 282.7L181.3 282.7L178.7 277.9ZM181.3 284.1L186.7 284.1L184.0 279.3ZM185.3 284.7L190.7 284.7L188.0 279.9ZM190.0 284.1L195.3 284.1L192.7 279.3ZM197.3 283.4L202.7 283.4L200.0 278.6ZM201.3 284.1L206.7 284.1L204.0 279.3ZM206.7 282.7L212.0 282.7L209.3 277.9ZM158.7 288.1L164.0 288.1L161.3 283.3ZM165.3 288.7L170.7 288.7L168.0 283.9ZM169.3 289.4L174.7 289.4L172.0 284.6ZM172.0 288.7L177.3 288.7L174.7 283.9ZM174.7 289.4L180.0 289.4L177.3 284.6ZM177.3 288.1L182.7 288.1L180.0 283.3ZM180.7 292.1L186.0 292.1L183.3 287.3ZM184.0 288.7L189.3 288.7L186.7 283.9ZM189.3 289.4L194.7 289.4L192.0 284.6ZM192.0 292.7L197.3 292.7L194.7 287.9ZM194.7 293.4L200.0 293.4L197.3 288.6ZM197.3 294.1L202.7 294.1L200.0 289.3ZM202.7 290.1L208.0 290.1L205.3 285.3ZM198.7 293.4L204.0 293.4L201.3 288.6ZM204.0 296.1L209.3 296.1L206.7 291.3ZM222.7 290.1L228.0 290.1L225.3 285.3ZM234.0 300.1L239.3 300.1L236.7 295.3ZM158.7 296.7L164.0 296.7L161.3 291.9ZM169.3 300.1L174.7 300.1L172.0 295.3ZM168.0 302.1L173.3 302.1L170.7 297.3ZM174.0 297.4L179.3 297.4L176.7 292.6ZM172.7 304.1L178.0 304.1L175.3 299.3ZM176.0 302.7L181.3 302.7L178.7 297.9ZM178.7 302.7L184.0 302.7L181.3 297.9ZM180.7 304.1L186.0 304.1L183.3 299.3ZM185.3 296.7L190.7 296.7L188.0 291.9ZM158.7 304.1L164.0 304.1L161.3 299.3ZM158.0 309.4L163.3 309.4L160.7 304.6ZM181.3 307.4L186.7 307.4L184.0 302.6ZM196.0 298.7L201.3 298.7L198.7 293.9ZM190.7 292.1L196.0 292.1L193.3 287.3ZM244.3 266.4L249.7 266.4L247.0 261.6ZM242.3 269.9L247.7 269.9L245.0 265.1ZM259.4 258.4L264.6 258.4L262.0 253.7ZM258.4 268.9L263.6 268.9L261.0 264.1ZM278.4 257.2L283.6 257.2L281.0 252.5ZM236.8 265.9L242.2 265.9L239.5 261.1ZM195.3 287.9L200.7 287.9L198.0 283.1Z" fill="#0c0cd4"/>
<path d="M121.0 287.8L127.0 287.8L124.0 282.2ZM128.0 293.8L134.1 293.8L131.0 288.2ZM132.9 290.8L139.1 290.8L136.0 285.2ZM138.3 288.8L144.5 288.8L141.4 283.2ZM143.3 300.4L149.5 300.4L146.4 294.9ZM116.4 303.1L122.5 303.1L119.4 297.6ZM154.9 314.8L161.1 314.8L158.0 309.2ZM136.3 320.4L142.5 320.4L139.4 314.9ZM129.9 323.8L136.1 323.8L133.0 318.2ZM128.0 326.4L134.1 326.4L131.0 320.9ZM121.0 327.8L127.0 327.8L124.0 322.2ZM139.3 338.8L145.5 338.8L142.4 333.2ZM127.4 354.8L133.5 354.8L130.4 349.2ZM153.9 353.1L160.1 353.1L157.0 347.6ZM137.9 376.8L144.1 376.8L141.0 371.2ZM197.6 269.8L203.8 269.8L200.7 264.2ZM182.6 276.4L188.8 276.4L185.7 270.9ZM214.2 277.1L220.4 277.1L217.3 271.6ZM166.5 283.1L172.7 283.1L169.6 277.6ZM226.2 283.1L232.4 283.1L229.3 277.6ZM162.2 293.8L168.4 293.8L165.3 288.2ZM183.6 292.4L189.8 292.4L186.7 286.9ZM186.9 292.4L193.1 292.4L190.0 286.9ZM188.9 301.8L195.1 301.8L192.0 296.2ZM201.6 301.8L207.8 301.8L204.7 296.2ZM216.9 298.4L223.1 298.4L220.0 292.9ZM218.2 304.4L224.4 304.4L221.3 298.9ZM202.2 309.1L208.4 309.1L205.3 303.6ZM206.0 312.4L212.2 312.4L209.1 306.9ZM179.3 312.4L185.5 312.4L182.4 306.9ZM204.2 324.4L210.4 324.4L207.3 318.9ZM230.2 289.8L236.4 289.8L233.3 284.2ZM243.4 276.9L249.6 276.9L246.5 271.4Z" fill="#30c830" stroke="#0a180a" stroke-width="1.0" stroke-linejoin="round"/>
</g>
<g clip-path="url(#cpc)">
<path d="M103.9 461.4L109.2 461.4L106.6 456.6ZM138.8 452.8L144.1 452.8L141.4 448.0ZM135.3 457.4L140.7 457.4L138.0 452.6ZM157.9 455.4L163.2 455.4L160.6 450.6ZM145.9 462.8L151.2 462.8L148.6 458.0ZM164.8 460.4L170.1 460.4L167.4 455.6ZM152.3 466.8L157.7 466.8L155.0 462.0ZM137.3 466.8L142.7 466.8L140.0 462.0ZM134.8 470.0L140.1 470.0L137.4 465.2ZM144.8 472.0L150.1 472.0L147.4 467.2ZM146.8 473.4L152.1 473.4L149.4 468.6ZM148.3 476.4L153.7 476.4L151.0 471.6ZM156.3 473.4L161.7 473.4L159.0 468.6ZM160.3 472.4L165.7 472.4L163.0 467.6ZM161.3 476.4L166.7 476.4L164.0 471.6ZM167.3 469.4L172.7 469.4L170.0 464.6ZM169.9 466.4L175.2 466.4L172.6 461.6ZM171.9 464.4L177.2 464.4L174.6 459.6ZM116.3 478.0L121.7 478.0L119.0 473.2ZM128.8 478.8L134.1 478.8L131.4 474.0ZM130.3 481.4L135.7 481.4L133.0 476.6ZM98.3 483.4L103.7 483.4L101.0 478.6ZM105.3 481.4L110.7 481.4L108.0 476.6ZM108.3 482.4L113.7 482.4L111.0 477.6ZM141.9 480.8L147.2 480.8L144.6 476.0ZM147.3 481.4L152.7 481.4L150.0 476.6ZM158.3 480.4L163.7 480.4L161.0 475.6ZM162.3 477.4L167.7 477.4L165.0 472.6ZM168.3 476.4L173.7 476.4L171.0 471.6ZM170.3 479.4L175.7 479.4L173.0 474.6ZM156.3 484.4L161.7 484.4L159.0 479.6ZM160.3 482.4L165.7 482.4L163.0 477.6ZM96.8 492.0L102.1 492.0L99.4 487.2ZM103.9 492.4L109.2 492.4L106.6 487.6ZM125.3 488.8L130.7 488.8L128.0 484.0ZM132.3 490.0L137.7 490.0L135.0 485.2ZM135.9 486.0L141.2 486.0L138.6 481.2ZM138.8 489.4L144.1 489.4L141.4 484.6ZM143.3 487.4L148.7 487.4L146.0 482.6ZM144.3 486.0L149.7 486.0L147.0 481.2ZM99.9 498.0L105.2 498.0L102.6 493.2ZM160.3 494.8L165.7 494.8L163.0 490.0ZM153.3 504.0L158.7 504.0L156.0 499.2ZM170.3 500.4L175.7 500.4L173.0 495.6ZM63.9 506.8L69.2 506.8L66.6 502.0ZM135.9 516.4L141.2 516.4L138.6 511.6ZM140.8 519.4L146.1 519.4L143.4 514.6ZM173.7 455.1L179.0 455.1L176.3 450.3ZM178.3 454.4L183.7 454.4L181.0 449.6ZM177.0 457.1L182.3 457.1L179.7 452.3ZM189.0 454.1L194.3 454.1L191.7 449.3ZM199.0 455.1L204.3 455.1L201.7 450.3ZM184.3 458.4L189.7 458.4L187.0 453.6ZM185.0 460.4L190.3 460.4L187.7 455.6ZM173.0 467.7L178.3 467.7L175.7 462.9ZM183.7 465.7L189.0 465.7L186.3 460.9ZM184.3 468.4L189.7 468.4L187.0 463.6ZM189.0 467.7L194.3 467.7L191.7 462.9ZM193.0 465.1L198.3 465.1L195.7 460.3ZM195.7 462.4L201.0 462.4L198.3 457.6ZM201.0 463.1L206.3 463.1L203.7 458.3ZM197.0 470.4L202.3 470.4L199.7 465.6ZM202.3 469.7L207.7 469.7L205.0 464.9ZM209.7 469.7L215.0 469.7L212.3 464.9ZM213.7 463.1L219.0 463.1L216.3 458.3ZM223.7 465.1L229.0 465.1L226.3 460.3ZM228.3 468.4L233.7 468.4L231.0 463.6ZM217.0 472.4L222.3 472.4L219.7 467.6ZM222.3 473.1L227.7 473.1L225.0 468.3ZM231.7 472.4L237.0 472.4L234.3 467.6ZM237.0 471.1L242.3 471.1L239.7 466.3ZM173.0 473.1L178.3 473.1L175.7 468.3ZM175.7 475.1L181.0 475.1L178.3 470.3ZM179.7 473.1L185.0 473.1L182.3 468.3ZM181.0 471.1L186.3 471.1L183.7 466.3ZM189.0 474.4L194.3 474.4L191.7 469.6ZM194.3 475.7L199.7 475.7L197.0 470.9ZM199.7 474.4L205.0 474.4L202.3 469.6ZM206.3 476.4L211.7 476.4L209.0 471.6ZM213.0 475.7L218.3 475.7L215.7 470.9ZM218.3 477.1L223.7 477.1L221.0 472.3ZM223.7 475.7L229.0 475.7L226.3 470.9ZM227.7 477.1L233.0 477.1L230.3 472.3ZM234.3 474.4L239.7 474.4L237.0 469.6ZM241.0 474.4L246.3 474.4L243.7 469.6ZM178.3 478.4L183.7 478.4L181.0 473.6ZM187.7 479.1L193.0 479.1L190.3 474.3ZM195.7 480.4L201.0 480.4L198.3 475.6ZM201.0 479.7L206.3 479.7L203.7 474.9ZM210.3 481.7L215.7 481.7L213.0 476.9ZM182.3 481.7L187.7 481.7L185.0 476.9ZM190.3 484.7L195.7 484.7L193.0 479.9ZM195.0 486.7L200.3 486.7L197.7 481.9ZM201.0 488.7L206.3 488.7L203.7 483.9ZM199.7 490.7L205.0 490.7L202.3 485.9ZM198.3 492.7L203.7 492.7L201.0 487.9ZM199.0 496.1L204.3 496.1L201.7 491.3ZM221.0 490.1L226.3 490.1L223.7 485.3ZM219.7 485.4L225.0 485.4L222.3 480.6ZM223.0 485.4L228.3 485.4L225.7 480.6ZM217.0 484.7L222.3 484.7L219.7 479.9ZM175.7 500.7L181.0 500.7L178.3 495.9ZM178.3 500.7L183.7 500.7L181.0 495.9ZM181.0 502.1L186.3 502.1L183.7 497.3ZM180.3 510.7L185.7 510.7L183.0 505.9ZM260.4 457.4L265.6 457.4L263.0 452.6ZM278.2 460.7L283.4 460.7L280.8 455.9ZM244.3 471.4L249.7 471.4L247.0 466.6ZM258.4 470.4L263.6 470.4L261.0 465.6ZM172.3 475.4L177.7 475.4L175.0 470.6ZM174.8 478.8L180.1 478.8L177.4 474.0ZM177.3 470.4L182.7 470.4L180.0 465.6Z" fill="#0c0cd4"/>
<path d="M154.5 448.4L160.7 448.4L157.6 442.9ZM121.0 463.8L127.0 463.8L124.0 458.2ZM129.9 474.8L136.1 474.8L133.0 469.2ZM136.3 477.1L142.5 477.1L139.4 471.6ZM116.4 486.4L122.5 486.4L119.4 480.9ZM128.3 482.8L134.5 482.8L131.4 477.2ZM153.9 489.8L160.1 489.8L157.0 484.2ZM161.9 488.8L168.1 488.8L165.0 483.2ZM166.3 503.1L172.5 503.1L169.4 497.6ZM186.3 443.1L192.5 443.1L189.4 437.6ZM201.9 449.1L208.1 449.1L205.0 443.6ZM205.9 465.1L212.1 465.1L209.0 459.6ZM197.2 469.1L203.4 469.1L200.3 463.6ZM182.6 479.4L188.8 479.4L185.7 473.9ZM216.6 481.4L222.8 481.4L219.7 475.9ZM179.0 483.1L185.2 483.1L182.1 477.6ZM218.6 485.8L224.8 485.8L221.7 480.2ZM196.3 496.9L202.5 496.9L199.4 491.4ZM189.0 504.9L195.2 504.9L192.1 499.4ZM204.3 505.1L210.5 505.1L207.4 499.6ZM214.6 503.4L220.8 503.4L217.7 497.9ZM225.9 500.9L232.1 500.9L229.0 495.4ZM230.6 498.6L236.8 498.6L233.7 493.1ZM202.6 524.5L208.8 524.5L205.7 519.0ZM241.2 493.1L247.4 493.1L244.3 487.6ZM133.2 526.8L139.4 526.8L136.3 521.2ZM143.2 534.0L149.4 534.0L146.3 528.5ZM139.4 537.2L145.6 537.2L142.5 531.8ZM182.8 544.8L188.9 544.8L185.8 539.2Z" fill="#30c830" stroke="#0a180a" stroke-width="1.0" stroke-linejoin="round"/>
</g>
<g clip-path="url(#cpd)">
<path d="M442.7 122.0L447.9 122.0L445.3 117.4ZM540.1 132.0L545.4 132.0L542.7 127.3ZM534.1 172.0L539.4 172.0L536.7 167.3ZM519.4 167.3L524.6 167.3L522.0 162.7ZM409.4 151.9L414.6 151.9L412.0 147.2ZM441.4 154.3L446.6 154.3L444.0 149.7ZM444.4 157.3L449.6 157.3L447.0 152.7ZM459.8 151.9L465.0 151.9L462.4 147.2ZM471.0 160.3L476.2 160.3L473.6 155.7ZM423.4 162.8L428.6 162.8L426.0 158.1ZM441.4 161.3L446.6 161.3L444.0 156.7ZM449.4 163.9L454.6 163.9L452.0 159.2ZM462.4 169.3L467.6 169.3L465.0 164.7ZM467.4 172.8L472.6 172.8L470.0 168.1ZM430.0 171.3L435.2 171.3L432.6 166.7ZM473.4 182.3L478.6 182.3L476.0 177.7ZM429.0 185.3L434.2 185.3L431.6 180.7ZM412.4 199.9L417.6 199.9L415.0 195.2ZM479.8 165.3L485.0 165.3L482.4 160.7ZM481.8 160.8L487.0 160.8L484.4 156.1ZM487.0 170.3L492.2 170.3L489.6 165.7ZM482.4 177.3L487.6 177.3L485.0 172.7ZM485.0 181.3L490.2 181.3L487.6 176.7ZM484.4 186.8L489.6 186.8L487.0 182.1ZM481.4 193.3L486.6 193.3L484.0 188.7ZM490.4 179.9L495.6 179.9L493.0 175.2ZM490.4 185.9L495.6 185.9L493.0 181.2ZM494.4 190.8L499.6 190.8L497.0 186.1ZM496.4 192.8L501.6 192.8L499.0 188.1ZM498.4 171.9L503.6 171.9L501.0 167.2ZM501.4 178.8L506.6 178.8L504.0 174.1ZM505.4 174.3L510.6 174.3L508.0 169.7ZM507.4 170.3L512.6 170.3L510.0 165.7ZM508.4 167.3L513.6 167.3L511.0 162.7ZM505.4 180.3L510.6 180.3L508.0 175.7ZM507.8 186.8L513.0 186.8L510.4 182.1ZM505.4 189.3L510.6 189.3L508.0 184.7ZM519.8 177.3L525.0 177.3L522.4 172.7ZM519.4 183.9L524.6 183.9L522.0 179.2ZM523.8 187.9L529.0 187.9L526.4 183.2ZM519.4 192.8L524.6 192.8L522.0 188.1ZM525.8 193.3L531.0 193.3L528.4 188.7ZM529.0 185.9L534.2 185.9L531.6 181.2ZM532.4 188.3L537.6 188.3L535.0 183.7ZM535.4 188.3L540.6 188.3L538.0 183.7ZM535.0 180.8L540.2 180.8L537.6 176.1ZM550.4 187.9L555.6 187.9L553.0 183.2ZM543.0 195.9L548.2 195.9L545.6 191.2ZM547.8 199.3L553.0 199.3L550.4 194.7ZM564.4 179.3L569.6 179.3L567.0 174.7ZM564.0 186.8L569.2 186.8L566.6 182.1Z" fill="#0c0cd4"/>
<path d="M462.1 102.5h6.4v6.4h-6.4ZM462.1 105.8h6.4v6.4h-6.4ZM462.1 109.1h6.4v6.4h-6.4ZM487.2 105.8h6.4v6.4h-6.4ZM506.8 101.8h6.4v6.4h-6.4ZM456.1 127.1h6.4v6.4h-6.4ZM441.5 130.5h6.4v6.4h-6.4ZM496.8 126.5h6.4v6.4h-6.4ZM492.8 132.5h6.4v6.4h-6.4ZM509.5 127.1h6.4v6.4h-6.4ZM507.5 131.8h6.4v6.4h-6.4ZM486.1 137.8h6.4v6.4h-6.4ZM468.8 140.5h6.4v6.4h-6.4ZM502.1 140.5h6.4v6.4h-6.4ZM437.5 117.8h6.4v6.4h-6.4ZM519.5 123.1h6.4v6.4h-6.4ZM549.5 129.8h6.4v6.4h-6.4ZM520.8 146.7h6.4v6.4h-6.4ZM407.2 138.8h6.4v6.4h-6.4ZM421.2 141.8h6.4v6.4h-6.4Z" fill="#ffa018" stroke="#1a1008" stroke-width="1.1"/>
<path d="M430.9 94.4h7v7.2h-7ZM425.5 114.4h7v7.2h-7ZM447.1 72.0h7v7.2h-7ZM500.1 70.4h7v7.2h-7ZM447.2 92.7h7v7.2h-7ZM481.8 110.7h7v7.2h-7ZM505.8 110.7h7v7.2h-7ZM469.2 122.1h7v7.2h-7ZM479.2 125.4h7v7.2h-7ZM489.8 122.7h7v7.2h-7ZM515.8 122.1h7v7.2h-7ZM535.8 142.1h7v7.2h-7ZM567.8 143.4h7v7.2h-7ZM520.5 146.3h7v7.2h-7Z" fill="#f20000"/>
<path d="M461.2 44.7h6.4v6.6h-6.4Z" fill="none" stroke="#f0b040" stroke-width="1.2"/>
<path d="M399.2 103.1h6.4v6.6h-6.4ZM438.8 91.7h6.4v6.6h-6.4ZM464.8 113.0h6.4v6.6h-6.4ZM461.5 81.7h6.4v6.6h-6.4Z" fill="none" stroke="#d03848" stroke-width="1.1"/>
<path d="M426.6 108.8L432.7 108.8L429.6 103.2ZM433.6 114.8L439.7 114.8L436.6 109.2ZM426.9 131.8L433.1 131.8L430.0 126.2ZM422.9 133.2L429.1 133.2L426.0 127.7ZM435.9 133.2L442.1 133.2L439.0 127.7ZM444.2 119.8L450.4 119.8L447.3 114.2ZM508.2 124.5L514.4 124.5L511.3 119.0ZM438.9 144.4L445.1 144.4L442.0 138.9ZM531.9 145.8L537.9 145.8L534.9 140.2ZM549.0 156.2L555.0 156.2L552.0 150.7ZM524.2 163.8L530.3 163.8L527.3 158.2ZM536.2 165.4L542.3 165.4L539.3 159.9ZM522.2 170.4L528.3 170.4L525.3 164.9ZM520.2 175.1L526.3 175.1L523.3 169.6ZM442.6 150.8L448.7 150.8L445.6 145.2ZM449.3 155.3L455.4 155.3L452.4 149.8ZM434.6 157.8L440.7 157.8L437.6 152.2ZM459.9 159.2L466.1 159.2L463.0 153.7ZM472.6 156.3L478.7 156.3L475.6 150.8ZM468.6 164.8L474.7 164.8L471.6 159.2ZM489.3 154.3L495.4 154.3L492.4 148.8ZM484.9 156.8L491.1 156.8L488.0 151.2ZM494.9 162.3L501.1 162.3L498.0 156.8ZM509.9 156.3L516.0 156.3L513.0 150.8ZM503.3 170.8L509.4 170.8L506.4 165.2ZM511.9 168.8L518.0 168.8L515.0 163.2ZM488.6 173.2L494.7 173.2L491.6 167.7ZM502.6 185.8L508.7 185.8L505.6 180.2ZM492.6 188.3L498.7 188.3L495.6 182.8Z" fill="#30c830" stroke="#0a180a" stroke-width="1.0" stroke-linejoin="round"/>
</g>
<g clip-path="url(#cpe)">
<path d="M429.0 273.8L434.2 273.8L431.6 269.0ZM435.8 280.0L441.0 280.0L438.4 275.2ZM444.4 282.0L449.6 282.0L447.0 277.2ZM449.4 278.0L454.6 278.0L452.0 273.2ZM467.4 280.4L472.6 280.4L470.0 275.6ZM441.4 288.0L446.6 288.0L444.0 283.2ZM430.4 292.4L435.6 292.4L433.0 287.6ZM436.4 295.4L441.6 295.4L439.0 290.6ZM410.4 302.0L415.6 302.0L413.0 297.2ZM412.4 302.0L417.6 302.0L415.0 297.2ZM441.4 302.4L446.6 302.4L444.0 297.6ZM442.4 305.4L447.6 305.4L445.0 300.6ZM459.8 313.4L465.0 313.4L462.4 308.6ZM463.4 296.4L468.6 296.4L466.0 291.6ZM475.4 292.4L480.6 292.4L478.0 287.6ZM476.4 296.4L481.6 296.4L479.0 291.6ZM522.4 263.4L527.6 263.4L525.0 258.6ZM525.0 268.4L530.2 268.4L527.6 263.6ZM549.8 260.8L555.0 260.8L552.4 256.0ZM564.4 262.8L569.6 262.8L567.0 258.0ZM501.8 270.0L507.0 270.0L504.4 265.2ZM526.4 273.4L531.6 273.4L529.0 268.6ZM535.0 273.4L540.2 273.4L537.6 268.6ZM543.0 276.4L548.2 276.4L545.6 271.6ZM481.4 283.4L486.6 283.4L484.0 278.6ZM484.4 284.4L489.6 284.4L487.0 279.6ZM487.4 281.4L492.6 281.4L490.0 276.6ZM490.4 281.4L495.6 281.4L493.0 276.6ZM493.8 279.4L499.0 279.4L496.4 274.6ZM480.4 286.4L485.6 286.4L483.0 281.6ZM497.4 284.4L502.6 284.4L500.0 279.6ZM505.4 289.4L510.6 289.4L508.0 284.6ZM517.4 282.4L522.6 282.4L520.0 277.6ZM518.4 285.4L523.6 285.4L521.0 280.6ZM528.4 281.4L533.6 281.4L531.0 276.6ZM534.4 280.8L539.6 280.8L537.0 276.0ZM541.4 288.0L546.6 288.0L544.0 283.2ZM547.8 288.8L553.0 288.8L550.4 284.0ZM508.4 298.0L513.6 298.0L511.0 293.2ZM484.4 304.4L489.6 304.4L487.0 299.6ZM507.0 311.4L512.2 311.4L509.6 306.6Z" fill="#0c0cd4"/>
<path d="M407.4 274.8h6.4v6.4h-6.4ZM421.4 270.2h6.4v6.4h-6.4ZM456.2 276.2h6.4v6.4h-6.4ZM461.8 283.8h6.4v6.4h-6.4ZM434.8 319.8h6.4v6.4h-6.4ZM469.2 325.8h6.4v6.4h-6.4ZM486.4 268.8h6.4v6.4h-6.4ZM507.2 263.2h6.4v6.4h-6.4ZM500.4 273.8h6.4v6.4h-6.4ZM520.8 269.8h6.4v6.4h-6.4ZM549.2 271.2h6.4v6.4h-6.4ZM496.8 290.8h6.4v6.4h-6.4ZM486.8 306.8h6.4v6.4h-6.4ZM518.8 303.8h6.4v6.4h-6.4ZM509.8 316.8h6.4v6.4h-6.4ZM506.8 328.4h6.4v6.4h-6.4ZM479.8 288.8h6.4v6.4h-6.4ZM461.8 343.2h6.4v6.4h-6.4Z" fill="#ffa018" stroke="#1a1008" stroke-width="1.1"/>
<path d="M447.5 267.8h7v7.2h-7ZM425.5 289.4h7v7.2h-7ZM446.9 296.4h7v7.2h-7ZM469.1 308.4h7v7.2h-7ZM431.1 332.8h7v7.2h-7ZM505.5 272.0h7v7.2h-7ZM520.9 272.4h7v7.2h-7ZM567.5 264.0h7v7.2h-7ZM535.5 282.0h7v7.2h-7ZM479.5 289.8h7v7.2h-7ZM482.1 312.4h7v7.2h-7ZM490.1 312.0h7v7.2h-7Z" fill="#f20000"/>
<path d="M461.2 268.7h6.4v6.6h-6.4Z" fill="none" stroke="#f0b040" stroke-width="1.2"/>
<path d="M398.8 321.7h6.4v6.6h-6.4ZM436.8 323.7h6.4v6.6h-6.4ZM464.8 285.1h6.4v6.6h-6.4ZM461.2 382.7h6.4v6.6h-6.4Z" fill="none" stroke="#d03848" stroke-width="1.1"/>
<path d="M422.6 288.1L428.7 288.1L425.6 282.6ZM438.9 290.8L445.1 290.8L442.0 285.2ZM442.6 296.4L448.7 296.4L445.6 290.9ZM472.6 282.8L478.7 282.8L475.6 277.2ZM459.9 295.8L466.1 295.8L463.0 290.2ZM433.6 305.8L439.7 305.8L436.6 300.2ZM468.3 304.8L474.4 304.8L471.4 299.2ZM426.9 313.1L433.1 313.1L430.0 307.6ZM449.3 311.8L455.4 311.8L452.4 306.2ZM460.6 312.8L466.7 312.8L463.6 307.2ZM426.6 328.4L432.7 328.4L429.6 322.9ZM433.9 324.8L440.1 324.8L437.0 319.2ZM444.9 324.8L451.1 324.8L448.0 319.2ZM443.9 329.8L450.1 329.8L447.0 324.2ZM443.3 333.8L449.4 333.8L446.4 328.2ZM433.3 330.8L439.4 330.8L436.4 325.2ZM494.6 280.4L500.7 280.4L497.6 274.9ZM501.9 284.8L508.1 284.8L505.0 279.2ZM508.6 285.8L514.6 285.8L511.6 280.2ZM487.9 291.8L494.1 291.8L491.0 286.2ZM489.3 299.8L495.4 299.8L492.4 294.2ZM502.6 299.8L508.7 299.8L505.6 294.2ZM511.9 293.8L518.0 293.8L515.0 288.2ZM524.0 287.8L530.0 287.8L527.0 282.2ZM523.0 290.4L529.0 290.4L526.0 284.9ZM536.0 297.8L542.0 297.8L539.0 292.2ZM492.6 307.8L498.7 307.8L495.6 302.2ZM521.0 305.8L527.0 305.8L524.0 300.2ZM509.9 314.8L516.0 314.8L513.0 309.2ZM508.6 317.8L514.6 317.8L511.6 312.2Z" fill="#30c830" stroke="#0a180a" stroke-width="1.0" stroke-linejoin="round"/>
</g>
<g clip-path="url(#cpf)">
<path d="M409.4 444.4L414.6 444.4L412.0 439.6ZM412.4 452.8L417.6 452.8L415.0 448.0ZM423.0 450.4L428.2 450.4L425.6 445.6ZM436.4 451.4L441.6 451.4L439.0 446.6ZM449.4 444.4L454.6 444.4L452.0 439.6ZM467.0 440.0L472.2 440.0L469.6 435.2ZM468.0 446.0L473.2 446.0L470.6 441.2ZM444.4 457.4L449.6 457.4L447.0 452.6ZM441.4 464.0L446.6 464.0L444.0 459.2ZM471.4 462.4L476.6 462.4L474.0 457.6ZM474.4 466.0L479.6 466.0L477.0 461.2ZM459.8 485.4L465.0 485.4L462.4 480.6ZM409.4 489.4L414.6 489.4L412.0 484.6ZM501.8 426.8L507.0 426.8L504.4 422.0ZM479.8 440.4L485.0 440.4L482.4 435.6ZM507.0 440.0L512.2 440.0L509.6 435.2ZM525.4 439.4L530.6 439.4L528.0 434.6ZM534.4 440.4L539.6 440.4L537.0 435.6ZM549.8 434.8L555.0 434.8L552.4 430.0ZM564.4 432.0L569.6 432.0L567.0 427.2ZM485.0 446.0L490.2 446.0L487.6 441.2ZM483.0 451.4L488.2 451.4L485.6 446.6ZM505.0 445.4L510.2 445.4L507.6 440.6ZM519.4 448.4L524.6 448.4L522.0 443.6ZM526.4 446.4L531.6 446.4L529.0 441.6ZM535.4 448.8L540.6 448.8L538.0 444.0ZM543.0 450.0L548.2 450.0L545.6 445.2ZM547.8 450.0L553.0 450.0L550.4 445.2ZM563.8 448.0L569.0 448.0L566.4 443.2ZM530.4 453.4L535.6 453.4L533.0 448.6ZM535.4 452.0L540.6 452.0L538.0 447.2ZM540.4 456.0L545.6 456.0L543.0 451.2ZM516.4 456.0L521.6 456.0L519.0 451.2ZM488.4 450.0L493.6 450.0L491.0 445.2ZM481.4 460.0L486.6 460.0L484.0 455.2ZM484.4 463.4L489.6 463.4L487.0 458.6ZM501.8 470.4L507.0 470.4L504.4 465.6ZM503.4 472.4L508.6 472.4L506.0 467.6ZM441.8 518.0L447.0 518.0L444.4 513.2Z" fill="#0c0cd4"/>
<path d="M455.8 471.8h6.4v6.4h-6.4ZM501.2 435.2h6.4v6.4h-6.4ZM496.8 442.8h6.4v6.4h-6.4ZM492.4 450.8h6.4v6.4h-6.4ZM518.8 461.8h6.4v6.4h-6.4ZM509.8 474.8h6.4v6.4h-6.4ZM521.2 480.8h6.4v6.4h-6.4ZM486.4 484.8h6.4v6.4h-6.4ZM487.2 495.8h6.4v6.4h-6.4ZM521.2 495.8h6.4v6.4h-6.4ZM421.2 502.8h6.4v6.4h-6.4ZM462.2 512.4h6.4v6.4h-6.4ZM462.2 519.8h6.4v6.4h-6.4ZM469.2 518.4h6.4v6.4h-6.4ZM435.2 544.2h6.4v6.4h-6.4ZM507.2 508.4h6.4v6.4h-6.4ZM549.8 502.4h6.4v6.4h-6.4Z" fill="#ffa018" stroke="#1a1008" stroke-width="1.1"/>
<path d="M469.1 418.8h7v7.2h-7ZM431.1 449.4h7v7.2h-7ZM425.5 456.4h7v7.2h-7ZM447.5 460.8h7v7.2h-7ZM490.1 434.0h7v7.2h-7ZM500.1 449.4h7v7.2h-7ZM506.1 451.4h7v7.2h-7ZM567.5 452.4h7v7.2h-7ZM479.5 464.0h7v7.2h-7ZM482.1 470.4h7v7.2h-7ZM520.1 473.4h7v7.2h-7ZM535.5 481.4h7v7.2h-7ZM447.5 502.0h7v7.2h-7Z" fill="#f20000"/>
<path d="M464.8 454.7h6.4v6.6h-6.4ZM399.2 486.3h6.4v6.6h-6.4ZM437.8 473.1h6.4v6.6h-6.4ZM460.8 487.7h6.4v6.6h-6.4Z" fill="none" stroke="#d03848" stroke-width="1.1"/>
<path d="M442.3 441.4L448.4 441.4L445.4 435.9ZM426.9 450.4L433.1 450.4L430.0 444.9ZM438.9 448.8L445.1 448.8L442.0 443.2ZM432.9 463.8L439.1 463.8L436.0 458.2ZM434.6 466.4L440.7 466.4L437.6 460.9ZM459.9 464.4L466.1 464.4L463.0 458.9ZM443.3 473.1L449.4 473.1L446.4 467.6ZM422.6 477.8L428.7 477.8L425.6 472.2ZM435.9 478.4L442.1 478.4L439.0 472.9ZM460.9 474.8L467.1 474.8L464.0 469.2ZM467.9 476.8L474.1 476.8L471.0 471.2ZM472.6 479.8L478.7 479.8L475.6 474.2ZM444.9 484.4L451.1 484.4L448.0 478.9ZM449.3 483.1L455.4 483.1L452.4 477.6ZM433.6 492.8L439.7 492.8L436.6 487.2ZM520.0 439.1L526.0 439.1L523.0 433.6ZM524.0 445.8L530.0 445.8L527.0 440.2ZM532.0 444.8L538.0 444.8L535.0 439.2ZM488.9 450.8L495.1 450.8L492.0 445.2ZM484.9 459.8L491.1 459.8L488.0 454.2ZM522.6 455.8L528.6 455.8L525.6 450.2ZM536.0 460.4L542.0 460.4L539.0 454.9ZM507.9 462.8L514.0 462.8L511.0 457.2ZM492.6 467.8L498.7 467.8L495.6 462.2ZM511.9 474.4L518.0 474.4L515.0 468.9ZM549.0 469.1L555.0 469.1L552.0 463.6ZM509.9 483.8L516.0 483.8L513.0 478.2ZM494.9 489.1L501.1 489.1L498.0 483.6ZM507.9 494.8L514.0 494.8L511.0 489.2ZM443.3 508.8L449.4 508.8L446.4 503.2Z" fill="#30c830" stroke="#0a180a" stroke-width="1.0" stroke-linejoin="round"/>
</g>
<g clip-path="url(#cpg)">
<path d="M423.0 638.0L428.2 638.0L425.6 633.2ZM429.4 646.0L434.6 646.0L432.0 641.2ZM412.4 655.4L417.6 655.4L415.0 650.6ZM430.4 662.0L435.6 662.0L433.0 657.2ZM473.4 640.0L478.6 640.0L476.0 635.2ZM467.4 658.0L472.6 658.0L470.0 653.2ZM471.0 670.0L476.2 670.0L473.6 665.2ZM475.4 696.4L480.6 696.4L478.0 691.6ZM441.4 700.4L446.6 700.4L444.0 695.6ZM480.4 625.4L485.6 625.4L483.0 620.6ZM485.0 624.8L490.2 624.8L487.6 620.0ZM487.4 626.0L492.6 626.0L490.0 621.2ZM523.8 618.8L529.0 618.8L526.4 614.0ZM534.4 619.4L539.6 619.4L537.0 614.6ZM526.4 627.4L531.6 627.4L529.0 622.6ZM494.4 636.0L499.6 636.0L497.0 631.2ZM505.4 638.0L510.6 638.0L508.0 633.2ZM507.0 641.4L512.2 641.4L509.6 636.6ZM522.4 638.0L527.6 638.0L525.0 633.2ZM548.4 635.4L553.6 635.4L551.0 630.6ZM531.4 648.0L536.6 648.0L534.0 643.2ZM564.4 649.4L569.6 649.4L567.0 644.6ZM490.4 655.4L495.6 655.4L493.0 650.6ZM504.4 655.4L509.6 655.4L507.0 650.6ZM518.4 662.4L523.6 662.4L521.0 657.6ZM534.4 654.4L539.6 654.4L537.0 649.6ZM543.0 660.8L548.2 660.8L545.6 656.0ZM535.0 668.8L540.2 668.8L537.6 664.0ZM481.4 679.4L486.6 679.4L484.0 674.6ZM502.4 685.4L507.6 685.4L505.0 680.6ZM501.0 690.0L506.2 690.0L503.6 685.2ZM504.4 690.0L509.6 690.0L507.0 685.2ZM516.4 690.4L521.6 690.4L519.0 685.6ZM540.4 690.0L545.6 690.0L543.0 685.2ZM479.8 695.4L485.0 695.4L482.4 690.6ZM409.0 712.0L414.2 712.0L411.6 707.2ZM483.0 713.4L488.2 713.4L485.6 708.6ZM509.8 710.0L515.0 710.0L512.4 705.2ZM441.8 719.4L447.0 719.4L444.4 714.6ZM517.0 734.4L522.2 734.4L519.6 729.6ZM550.1 609.4L555.4 609.4L552.8 604.6Z" fill="#0c0cd4"/>
<path d="M468.8 646.8h6.4v6.4h-6.4ZM421.2 660.4h6.4v6.4h-6.4ZM440.8 663.8h6.4v6.4h-6.4ZM456.2 660.4h6.4v6.4h-6.4ZM407.2 672.4h6.4v6.4h-6.4ZM461.8 676.8h6.4v6.4h-6.4ZM435.8 689.8h6.4v6.4h-6.4ZM461.8 686.8h6.4v6.4h-6.4ZM492.4 619.8h6.4v6.4h-6.4ZM501.2 617.2h6.4v6.4h-6.4ZM509.8 625.2h6.4v6.4h-6.4ZM549.8 608.8h6.4v6.4h-6.4ZM496.8 642.4h6.4v6.4h-6.4ZM507.2 645.8h6.4v6.4h-6.4ZM518.8 637.8h6.4v6.4h-6.4ZM521.8 638.8h6.4v6.4h-6.4ZM485.8 665.8h6.4v6.4h-6.4ZM487.2 685.8h6.4v6.4h-6.4ZM506.8 696.8h6.4v6.4h-6.4Z" fill="#ffa018" stroke="#1a1008" stroke-width="1.1"/>
<path d="M452.1 639.4h7v7.2h-7ZM424.1 648.4h7v7.2h-7ZM425.5 660.4h7v7.2h-7ZM446.9 669.4h7v7.2h-7ZM447.5 674.8h7v7.2h-7ZM430.9 682.8h7v7.2h-7ZM407.5 688.8h7v7.2h-7ZM445.5 688.0h7v7.2h-7ZM449.5 688.4h7v7.2h-7ZM535.5 622.8h7v7.2h-7ZM567.5 620.8h7v7.2h-7ZM481.5 649.4h7v7.2h-7ZM478.5 654.4h7v7.2h-7ZM489.5 656.0h7v7.2h-7ZM500.5 664.0h7v7.2h-7ZM506.1 664.8h7v7.2h-7ZM520.5 648.4h7v7.2h-7ZM512.5 695.4h7v7.2h-7ZM413.5 703.4h7v7.2h-7Z" fill="#f20000"/>
<path d="M461.2 706.3h6.4v6.6h-6.4Z" fill="none" stroke="#f0b040" stroke-width="1.2"/>
<path d="M398.8 660.7h6.4v6.6h-6.4ZM464.8 656.7h6.4v6.6h-6.4ZM435.8 692.7h6.4v6.6h-6.4ZM461.2 691.3h6.4v6.6h-6.4Z" fill="none" stroke="#d03848" stroke-width="1.1"/>
<path d="M442.6 664.4L448.7 664.4L445.6 658.9ZM433.9 669.8L440.1 669.8L437.0 664.2ZM432.9 674.4L439.1 674.4L436.0 668.9ZM449.3 668.4L455.4 668.4L452.4 662.9ZM422.6 678.4L428.7 678.4L425.6 672.9ZM459.9 661.8L466.1 661.8L463.0 656.2ZM473.9 654.8L480.1 654.8L477.0 649.2ZM438.6 687.8L444.7 687.8L441.6 682.2ZM426.9 695.8L433.1 695.8L430.0 690.2ZM532.0 635.8L538.0 635.8L535.0 630.2ZM549.4 639.8L555.4 639.8L552.4 634.2ZM502.6 644.4L508.7 644.4L505.6 638.9ZM488.9 647.1L495.1 647.1L492.0 641.6ZM524.0 656.8L530.0 656.8L527.0 651.2ZM502.9 661.1L509.1 661.1L506.0 655.6ZM511.9 662.4L518.0 662.4L515.0 656.9ZM507.9 664.4L514.0 664.4L511.0 658.9ZM536.0 663.1L542.0 663.1L539.0 657.6ZM494.9 668.4L501.1 668.4L498.0 662.9ZM484.9 675.8L491.1 675.8L488.0 670.2ZM509.9 678.4L516.0 678.4L513.0 672.9ZM520.6 696.4L526.6 696.4L523.6 690.9ZM426.6 705.8L432.7 705.8L429.6 700.2ZM433.6 712.1L439.7 712.1L436.6 706.6ZM443.3 720.4L449.4 720.4L446.4 714.9Z" fill="#30c830" stroke="#0a180a" stroke-width="1.0" stroke-linejoin="round"/>
</g>
<text x="246.8" y="68.6" font-family='"Liberation Serif", serif' font-size="18" letter-spacing="2.4" text-anchor="start" fill="#2b2b2b">(a)</text>
<text x="66" y="248" font-family='"Liberation Serif", serif' font-size="18" letter-spacing="2.4" text-anchor="start" fill="#2b2b2b">(b)</text>
<text x="66" y="428" font-family='"Liberation Serif", serif' font-size="18" letter-spacing="2.4" text-anchor="start" fill="#2b2b2b">(c)</text>
<text x="553" y="68.6" font-family='"Liberation Serif", serif' font-size="18" letter-spacing="2.4" text-anchor="start" fill="#2b2b2b">(d)</text>
<text x="372.6" y="248" font-family='"Liberation Serif", serif' font-size="18" letter-spacing="2.4" text-anchor="start" fill="#2b2b2b">(e)</text>
<text x="372.6" y="428" font-family='"Liberation Serif", serif' font-size="18" letter-spacing="2.4" text-anchor="start" fill="#2b2b2b">(f)</text>
<text x="372.6" y="608" font-family='"Liberation Serif", serif' font-size="18" letter-spacing="2.4" text-anchor="start" fill="#2b2b2b">(g)</text>
<text transform="translate(109.0,604.9) scale(1.03,1)" font-family='"Liberation Serif", serif' font-size="19" text-anchor="middle" fill="#2b2b2b">2</text>
<text transform="translate(165.7,604.9) scale(1.03,1)" font-family='"Liberation Serif", serif' font-size="19" text-anchor="middle" fill="#2b2b2b">2.2</text>
<text transform="translate(222.3,604.9) scale(1.03,1)" font-family='"Liberation Serif", serif' font-size="19" text-anchor="middle" fill="#2b2b2b">2.4</text>
<text transform="translate(279.0,604.9) scale(1.03,1)" font-family='"Liberation Serif", serif' font-size="19" text-anchor="middle" fill="#2b2b2b">2.6</text>
<text x="167.0" y="638.1999999999999" font-family='"Liberation Serif", serif' font-size="18" letter-spacing="1.3" fill="#2b2b2b">log</text>
<text x="203.5" y="638.1999999999999" font-family='"Liberation Serif", serif' font-size="18" font-style="italic" fill="#2b2b2b">σ</text>
<text transform="translate(414.9,784.9) scale(1.03,1)" font-family='"Liberation Serif", serif' font-size="19" text-anchor="middle" fill="#2b2b2b">2</text>
<text transform="translate(471.6,784.9) scale(1.03,1)" font-family='"Liberation Serif", serif' font-size="19" text-anchor="middle" fill="#2b2b2b">2.2</text>
<text transform="translate(528.2,784.9) scale(1.03,1)" font-family='"Liberation Serif", serif' font-size="19" text-anchor="middle" fill="#2b2b2b">2.4</text>
<text transform="translate(584.9,784.9) scale(1.03,1)" font-family='"Liberation Serif", serif' font-size="19" text-anchor="middle" fill="#2b2b2b">2.6</text>
<text x="455.5" y="818.1999999999999" font-family='"Liberation Serif", serif' font-size="18" letter-spacing="1.3" fill="#2b2b2b">log</text>
<text x="492.0" y="818.1999999999999" font-family='"Liberation Serif", serif' font-size="18" font-style="italic" fill="#2b2b2b">σ</text>
<text transform="translate(11.6,132.5) rotate(-90) scale(1.1859,1)" x="0" y="0" font-family='"Liberation Serif", serif' font-size="17" text-anchor="middle" fill="#2b2b2b" style="white-space:pre">log  H<tspan font-style="italic">β</tspan><tspan font-size="12" dy="4">G</tspan></text>
<text transform="translate(11.6,312.5) rotate(-90) scale(1.1753,1)" x="0" y="0" font-family='"Liberation Serif", serif' font-size="17" text-anchor="middle" fill="#2b2b2b" style="white-space:pre">log  Mgb</text>
<text transform="translate(11.6,492.5) rotate(-90) scale(1.2282,1)" x="0" y="0" font-family='"Liberation Serif", serif' font-size="17" text-anchor="middle" fill="#2b2b2b" style="white-space:pre">log  &lt;Fe&gt;</text>
<text transform="translate(318,129.7) rotate(-90) scale(1.1118,1)" x="0" y="0" font-family='"Liberation Serif", serif' font-size="17" text-anchor="middle" fill="#2b2b2b" style="white-space:pre">(H<tspan font-style="italic">δ</tspan><tspan font-size="12" dy="4">A</tspan><tspan dy="-4">  +  H</tspan><tspan font-style="italic">γ</tspan><tspan font-size="12" dy="4">A</tspan><tspan dy="-4">)′</tspan></text>
<text transform="translate(318,312) rotate(-90) scale(1.2229,1)" x="0" y="0" font-family='"Liberation Serif", serif' font-size="17" text-anchor="middle" fill="#2b2b2b" style="white-space:pre">log  C4668</text>
<text transform="translate(318,493) rotate(-90) scale(1.2441,1)" x="0" y="0" font-family='"Liberation Serif", serif' font-size="17" text-anchor="middle" fill="#2b2b2b" style="white-space:pre">log  Fe4383</text>
<text transform="translate(318,672) rotate(-90) scale(1.1647,1)" x="0" y="0" font-family='"Liberation Serif", serif' font-size="17" text-anchor="middle" fill="#2b2b2b" style="white-space:pre">CN3883</text>
<path d="M66.0 8.1L71.0 8.1L68.5 3.7Z" fill="#0c0cd4"/>
<text x="83" y="10.5" font-family='"Liberation Serif", serif' font-size="13.5" fill="#2020c8" textLength="127.5" lengthAdjust="spacingAndGlyphs">Perseus,A194,Coma</text>
<text x="220" y="10.5" font-family='"Liberation Serif", serif' font-size="13.5" fill="#2020c8" textLength="95.2" lengthAdjust="spacingAndGlyphs">z=0.018−0.024</text>
<path d="M65.2 26.9L71.8 26.9L68.5 21.1Z" fill="#30c830" stroke="#102010" stroke-width="0.95"/>
<text x="83" y="27.6" font-family='"Liberation Sans", sans-serif' font-size="12.4" font-weight="bold" fill="#22e022" textLength="102.3" lengthAdjust="spacingAndGlyphs">MS0451.6-0305</text>
<text x="192.5" y="27.6" font-family='"Liberation Sans", sans-serif' font-size="12.4" font-weight="bold" fill="#22e022" textLength="43.5" lengthAdjust="spacingAndGlyphs">z=0.54</text>
<rect x="369.6" y="2.9" width="6.4" height="6.4" fill="#ffa018" stroke="#1a1008" stroke-width="1.1"/>
<text x="385.5" y="10.6" font-family='"Liberation Sans", sans-serif' font-size="12.4" font-weight="bold" fill="#f0a020" textLength="107.5" lengthAdjust="spacingAndGlyphs">RXJ0152.7-1357</text>
<text x="501" y="10.6" font-family='"Liberation Sans", sans-serif' font-size="12.4" font-weight="bold" fill="#f0a020" textLength="44.0" lengthAdjust="spacingAndGlyphs">z=0.83</text>
<rect x="369.3" y="20.3" width="7" height="7.2" fill="#f20000"/>
<text x="385.5" y="28.3" font-family='"Liberation Serif", serif' font-size="13.5" fill="#e01818" textLength="107.5" lengthAdjust="spacingAndGlyphs">RXJ1226.9+3332</text>
<text x="502" y="28.3" font-family='"Liberation Serif", serif' font-size="13.5" fill="#e01818" textLength="43.0" lengthAdjust="spacingAndGlyphs">z=0.89</text>
</svg></body></html>
